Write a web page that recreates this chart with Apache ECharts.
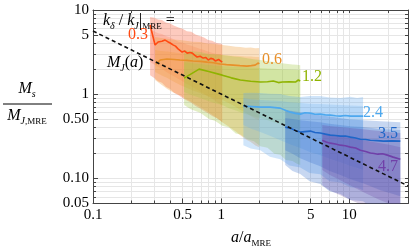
<!DOCTYPE html>
<html><head><meta charset="utf-8">
<script src="https://cdn.jsdelivr.net/npm/echarts@6/dist/echarts.min.js"></script>
<style>html,body{margin:0;padding:0;background:#fff}#c{width:415px;height:247px}</style>
</head><body><div id="c"></div>
<script>
// ---- tick values and labels ----
const xMinorTicks = [0.1,0.2,0.3,0.4,0.5,0.6,0.7,0.8,0.9,1,2,3,4,5,6,7,8,9,10,20];
const xLabelTicks = [0.1,0.5,1,5,10];
const xLabelText = ['0.1','0.5','1','5','10'];
const yMinorTicks = [0.05,0.06,0.07,0.08,0.09,0.1,0.2,0.3,0.4,0.5,0.6,0.7,0.8,0.9,1,2,3,4,5,6,7,8,9,10];
const yLabelTicks = [0.05,0.1,0.5,1,5,10];
const yLabelText = ['0.05','0.10','0.50','1','5','10'];

// ---- series lines: k_delta/k_J|MRE = 0.3, 0.6, 1.2, 2.4, 3.5, 4.7 ----
const s03X = [0.279,0.305,0.322,0.345,0.365,0.383,0.400,0.421,0.440,0.461,0.496,0.520,0.543,0.570,0.595,0.620,0.649,0.685,0.724,0.760,0.793,0.830,0.868,0.900,0.931,0.955,0.982,1.02];
const s03Y = [6.63,3.83,4.16,4.25,4.39,4.20,4.05,3.85,3.72,3.45,3.16,3.25,3.07,3.12,3.07,2.90,2.76,2.82,2.68,2.72,2.54,2.66,2.61,2.48,2.40,2.58,2.54,2.40];
const s06X = [0.310,0.334,0.378,0.430,0.478,0.540,0.604,0.690,0.778,0.870,0.982,1.10,1.24,1.40,1.59,1.72,1.84,1.95,1.98];
const s06Y = [2.28,2.54,2.61,2.58,2.54,2.52,2.47,2.45,2.40,2.36,2.28,2.24,2.21,2.18,2.15,2.18,2.21,2.34,2.28];
const s12X = [0.514,0.673,0.80,1.02,1.20,1.41,1.70,2.02,2.30,2.55,2.80,3.0,3.4,3.8,4.0,4.14];
const s12Y = [1.55,1.98,1.86,1.68,1.56,1.47,1.42,1.39,1.40,1.43,1.37,1.39,1.40,1.39,1.47,1.43];
const s24X = [1.49,1.75,2.02,2.41,2.89,3.20,3.46,3.80,4.14,4.50,4.96,5.40,5.93,6.50,7.10,7.80,8.51,9.30,10.2,11.5,12.8];
const s24Y = [0.72,0.71,0.70,0.70,0.681,0.64,0.610,0.590,0.578,0.600,0.594,0.575,0.578,0.566,0.562,0.552,0.547,0.556,0.547,0.550,0.547];
const s35X = [3.16,3.46,3.80,4.14,4.50,4.96,5.40,5.93,6.50,7.10,7.80,8.51,9.30,10.2,11.2,12.2,13.4,14.6,16.5,18.5,21.5,25.0];
const s35Y = [0.405,0.394,0.370,0.353,0.358,0.363,0.350,0.344,0.334,0.325,0.322,0.316,0.318,0.308,0.300,0.291,0.288,0.283,0.280,0.276,0.278,0.276];
const s47X = [6.15,6.60,7.10,7.80,8.51,9.30,10.2,11.2,12.2,13.4,14.6,15.6,16.7,18.2,19.8,22.0,25.0];
const s47Y = [0.283,0.270,0.261,0.255,0.247,0.243,0.234,0.228,0.215,0.208,0.199,0.197,0.193,0.195,0.188,0.178,0.168];

// ---- bands (outer / inner) ----
const b03X = [0.279,0.300,0.322,0.345,0.370,0.400,0.430,0.465,0.500,0.540,0.585,0.630,0.680,0.735,0.790,0.850,0.920,0.980,1.02];
const b03OutHi = [8.26,8.10,7.70,7.60,7.10,6.90,6.50,6.20,6.00,5.60,5.50,5.10,4.90,4.70,4.40,4.30,4.05,4.00,3.94];
const b03OutLo = [1.68,1.55,1.42,1.36,1.22,1.15,1.03,0.97,0.90,0.84,0.79,0.72,0.68,0.63,0.59,0.55,0.52,0.49,0.464];
const b03InHi = [5.78,5.60,5.30,5.20,4.90,4.70,4.45,4.20,4.10,3.90,3.75,3.60,3.45,3.35,3.20,3.10,3.00,3.00,2.99];
const b03InLo = [2.40,2.25,2.10,2.00,1.85,1.72,1.62,1.50,1.42,1.32,1.24,1.15,1.08,1.00,0.94,0.88,0.81,0.76,0.72];

const b06X = [0.305,0.340,0.380,0.420,0.478,0.530,0.600,0.685,0.780,0.880,1.02,1.15,1.30,1.41,1.55,1.70,1.85,1.98];
const b06OutHi = [4.77,4.65,4.55,4.45,4.39,4.30,4.20,4.16,4.00,3.95,3.83,3.75,3.65,3.63,3.55,3.58,3.50,3.53];
const b06OutLo = [1.47,1.30,1.15,1.05,0.97,0.88,0.79,0.70,0.62,0.55,0.464,0.41,0.36,0.325,0.29,0.27,0.245,0.234];
const b06InHi = [3.34,3.25,3.20,3.15,3.07,3.05,3.00,2.99,2.95,2.93,2.91,2.88,2.85,2.83,2.80,2.79,2.77,2.76];
const b06InLo = [1.83,1.68,1.55,1.42,1.28,1.20,1.10,1.03,0.95,0.90,0.849,0.78,0.70,0.645,0.60,0.55,0.51,0.49];

const b12X = [0.514,0.580,0.685,0.800,0.900,1.02,1.15,1.30,1.41,1.60,1.80,2.02,2.30,2.60,2.89,3.20,3.60,3.90,4.14];
const b12OutHi = [3.34,3.25,3.16,3.00,2.98,2.91,2.85,2.78,2.76,2.66,2.60,2.54,2.45,2.40,2.34,2.30,2.25,2.24,2.21];
const b12OutLo = [0.740,0.66,0.60,0.51,0.48,0.42,0.40,0.34,0.33,0.29,0.275,0.24,0.23,0.195,0.19,0.165,0.16,0.148,0.143];
const b12InHi = [2.40,2.35,2.28,2.22,2.18,2.15,2.13,2.11,2.10,2.08,2.06,2.04,2.02,2.00,1.98,1.96,1.95,1.94,1.93];
const b12InLo = [1.06,0.98,0.896,0.82,0.78,0.740,0.68,0.64,0.610,0.57,0.54,0.518,0.49,0.46,0.44,0.42,0.40,0.385,0.373];

const b24X = [1.49,1.70,2.02,2.40,2.89,3.40,4.14,4.90,5.93,7.00,8.51,10.2,11.5,12.8];
const b24OutHi = [1.03,1.04,1.03,1.01,1.00,0.95,0.921,0.95,0.946,0.91,0.896,0.93,0.90,0.921];
const b24OutLo = [0.247,0.225,0.215,0.18,0.168,0.142,0.134,0.115,0.111,0.092,0.089,0.078,0.077,0.072];
const b24InHi = [0.896,0.87,0.849,0.84,0.825,0.80,0.781,0.77,0.760,0.75,0.740,0.73,0.725,0.720];
const b24InLo = [0.428,0.39,0.353,0.32,0.283,0.255,0.228,0.205,0.188,0.17,0.155,0.14,0.132,0.125];

const b35X = [3.16,3.60,4.14,4.90,5.93,7.00,8.51,10.2,12.8,15.0,17.5,21.0,25.0];
const b35OutHi = [0.645,0.63,0.610,0.585,0.562,0.54,0.518,0.50,0.490,0.482,0.477,0.47,0.464];
const b35OutLo = [0.143,0.122,0.112,0.092,0.085,0.070,0.065,0.055,0.053,0.045,0.043,0.037,0.0353];
const b35InHi = [0.518,0.505,0.490,0.475,0.464,0.445,0.428,0.415,0.405,0.395,0.383,0.378,0.373];
const b35InLo = [0.215,0.195,0.173,0.155,0.139,0.122,0.109,0.097,0.0872,0.079,0.072,0.066,0.0611];

const b47X = [6.15,7.00,8.51,10.2,12.8,15.0,17.5,21.0,25.0];
const b47OutHi = [0.428,0.418,0.405,0.395,0.383,0.372,0.363,0.352,0.344];
const b47OutLo = [0.0826,0.072,0.0628,0.055,0.0477,0.043,0.0395,0.036,0.0335];
const b47InHi = [0.344,0.33,0.316,0.30,0.283,0.272,0.261,0.248,0.234];
const b47InLo = [0.125,0.11,0.0947,0.082,0.0683,0.061,0.0547,0.049,0.0441];

// ---- Jeans mass M_J(a) ----
const mjX = [0.1, 1, 28.7];
const mjY = [5.62, 1.0, 0.081];

const FONT = '"Liberation Serif","DejaVu Serif",serif';

function zip(xs, ys) { return xs.map((x, i) => [x, ys[i]]); }

function band(xs, lo, hi, color) {
  return {
    type: 'custom', xAxisIndex: 0, yAxisIndex: 0, clip: true, silent: true, z: 1,
    data: xs.map((x, i) => [x, lo[i], hi[i]]),
    encode: { x: 0, y: [1, 2] },
    renderItem: function (params, api) {
      if (params.dataIndex !== 0) return null;
      const pts = [];
      for (let i = 0; i < xs.length; i++) pts.push(api.coord([xs[i], hi[i]]));
      for (let i = xs.length - 1; i >= 0; i--) pts.push(api.coord([xs[i], lo[i]]));
      return { type: 'polygon', shape: { points: pts }, style: { fill: color } };
    }
  };
}
function line(xs, ys, color) {
  return {
    type: 'line', xAxisIndex: 0, yAxisIndex: 0, data: zip(xs, ys), showSymbol: false,
    symbol: 'none', z: 4, silent: true,
    lineStyle: { color: color, width: 1.6 }
  };
}

const C = {
  r: ['rgba(250,115,85,0.38)', 'rgba(250,115,85,0.24)', '#ff4a12'],
  o: ['rgba(240,155,55,0.32)', 'rgba(240,155,55,0.26)', '#e8902a'],
  g: ['rgba(160,200,60,0.30)', 'rgba(160,200,60,0.24)', '#8fb300'],
  lb: ['rgba(100,170,240,0.30)', 'rgba(100,170,240,0.24)', '#4da8ee'],
  b: ['rgba(40,100,200,0.26)', 'rgba(40,100,200,0.24)', '#1f66c8'],
  p: ['rgba(100,60,160,0.26)', 'rgba(100,60,160,0.24)', '#7040a8']
};

const series = [
  band(b03X, b03OutLo, b03OutHi, C.r[0]), band(b03X, b03InLo, b03InHi, C.r[1]),
  band(b06X, b06OutLo, b06OutHi, C.o[0]), band(b06X, b06InLo, b06InHi, C.o[1]),
  band(b12X, b12OutLo, b12OutHi, C.g[0]), band(b12X, b12InLo, b12InHi, C.g[1]),
  band(b24X, b24OutLo, b24OutHi, C.lb[0]), band(b24X, b24InLo, b24InHi, C.lb[1]),
  band(b35X, b35OutLo, b35OutHi, C.b[0]), band(b35X, b35InLo, b35InHi, C.b[1]),
  band(b47X, b47OutLo, b47OutHi, C.p[0]), band(b47X, b47InLo, b47InHi, C.p[1]),
  line(s03X, s03Y, C.r[2]), line(s06X, s06Y, C.o[2]), line(s12X, s12Y, C.g[2]),
  line(s24X, s24Y, C.lb[2]), line(s35X, s35Y, C.b[2]), line(s47X, s47Y, C.p[2]),
  {
    type: 'line', xAxisIndex: 0, yAxisIndex: 0, data: zip(mjX, mjY), showSymbol: false, symbol: 'none',
    z: 5, silent: true, lineStyle: { color: '#111', width: 1.6, type: [4, 3] }
  }
];

function fmt(ticks, texts) {
  return function (v) {
    for (let i = 0; i < ticks.length; i++) if (Math.abs(v / ticks[i] - 1) < 1e-6) return texts[i];
    return '';
  };
}
const axisCol = '#444';
const labelStyle = { fontFamily: FONT, fontSize: 15, color: '#000' };

const xBase = { type: 'log', logBase: 10, min: 0.1, max: 28.7, gridIndex: 0 };
const yBase = { type: 'log', logBase: 10, min: 0.05, max: 10, gridIndex: 0 };

const option = {
  animation: false,
  grid: { left: 93, right: 7, top: 10, bottom: 43.5, containLabel: false, outerBoundsMode: 'none' },
  xAxis: [
    Object.assign({}, xBase, {
      position: 'bottom',
      axisLine: { show: true, lineStyle: { color: axisCol, width: 1 } },
      axisTick: { show: true, inside: true, length: 3, customValues: xMinorTicks, lineStyle: { color: axisCol } },
      axisLabel: Object.assign({ show: true, margin: 4, customValues: xLabelTicks, formatter: fmt(xLabelTicks, xLabelText) }, labelStyle),
      splitLine: { show: true, lineStyle: { color: '#e6e6e6', width: 1 } }
    }),
    Object.assign({}, xBase, {
      position: 'bottom',
      axisLine: { show: false },
      axisTick: { show: true, inside: true, length: 5, customValues: xLabelTicks, lineStyle: { color: axisCol } },
      axisLabel: { show: false }, splitLine: { show: false }
    }),
    Object.assign({}, xBase, {
      position: 'top',
      axisLine: { show: true, lineStyle: { color: axisCol, width: 1 } },
      axisTick: { show: true, inside: true, length: 3, customValues: xMinorTicks, lineStyle: { color: axisCol } },
      axisLabel: { show: false }, splitLine: { show: false }
    })
  ],
  yAxis: [
    Object.assign({}, yBase, {
      position: 'left',
      axisLine: { show: true, lineStyle: { color: axisCol, width: 1 } },
      axisTick: { show: true, inside: true, length: 3, customValues: yMinorTicks, lineStyle: { color: axisCol } },
      axisLabel: Object.assign({ show: true, margin: 4, customValues: yLabelTicks, formatter: fmt(yLabelTicks, yLabelText) }, labelStyle),
      splitLine: { show: true, lineStyle: { color: '#e6e6e6', width: 1 } }
    }),
    Object.assign({}, yBase, {
      position: 'left',
      axisLine: { show: false },
      axisTick: { show: true, inside: true, length: 5, customValues: yLabelTicks, lineStyle: { color: axisCol } },
      axisLabel: { show: false }, splitLine: { show: false }
    }),
    Object.assign({}, yBase, {
      position: 'right',
      axisLine: { show: true, lineStyle: { color: axisCol, width: 1 } },
      axisTick: { show: true, inside: true, length: 3, customValues: yMinorTicks, lineStyle: { color: axisCol } },
      axisLabel: { show: false }, splitLine: { show: false }
    })
  ],
  series: series,
  graphic: []
};

const rich = {
  i: { fontFamily: FONT, fontStyle: 'italic', fontSize: 16, lineHeight: 20, fill: '#000' },
  r: { fontFamily: FONT, fontSize: 16, lineHeight: 20, fill: '#000' },
  si: { fontFamily: FONT, fontStyle: 'italic', fontSize: 10, lineHeight: 10, verticalAlign: 'bottom', fill: '#000' },
  sr: { fontFamily: FONT, fontSize: 9, lineHeight: 10, verticalAlign: 'bottom', fill: '#000' },
  bar: { fontFamily: FONT, fontSize: 18, lineHeight: 20, fill: '#000' }
};
function rtext(x, y, txt, align) {
  return { type: 'text', x: x, y: y, z: 10, silent: true,
    style: { text: txt, rich: rich, align: align || 'left', verticalAlign: 'middle', font: '16px ' + FONT } };
}
function ctext(x, y, txt, color) {
  return { type: 'text', x: x, y: y, z: 10, silent: true,
    style: { text: txt, fill: color, font: '16px ' + FONT, align: 'left', verticalAlign: 'middle' } };
}
option.graphic = [
  rtext(27, 89, '{i|M}{si|s}', 'center'),
  { type: 'line', shape: { x1: 3, y1: 104, x2: 52, y2: 104 }, style: { stroke: '#000', lineWidth: 1 }, silent: true },
  rtext(27, 116, '{i|M}{si|J}{sr|,MRE}', 'center'),
  rtext(251, 238, '{i|a}{r|/}{i|a}{sr|MRE}', 'center'),
  rtext(103, 21, '{i|k}{si|δ}{r| / }{i|k}{si|J}{bar||}{sr|MRE}{r| =}', 'left'),
  rtext(107, 63, '{i|M}{si|J}{r|(}{i|a}{r|)}', 'left'),
  ctext(128, 35, '0.3', C.r[2]),
  ctext(262, 60, '0.6', C.o[2]),
  ctext(302, 77, '1.2', C.g[2]),
  ctext(363, 113, '2.4', C.lb[2]),
  ctext(378, 134, '3.5', C.b[2]),
  ctext(378, 167, '4.7', C.p[2])
];

const chart = echarts.init(document.getElementById('c'), null, { renderer: 'canvas' });
chart.setOption(option);
</script></body></html>
